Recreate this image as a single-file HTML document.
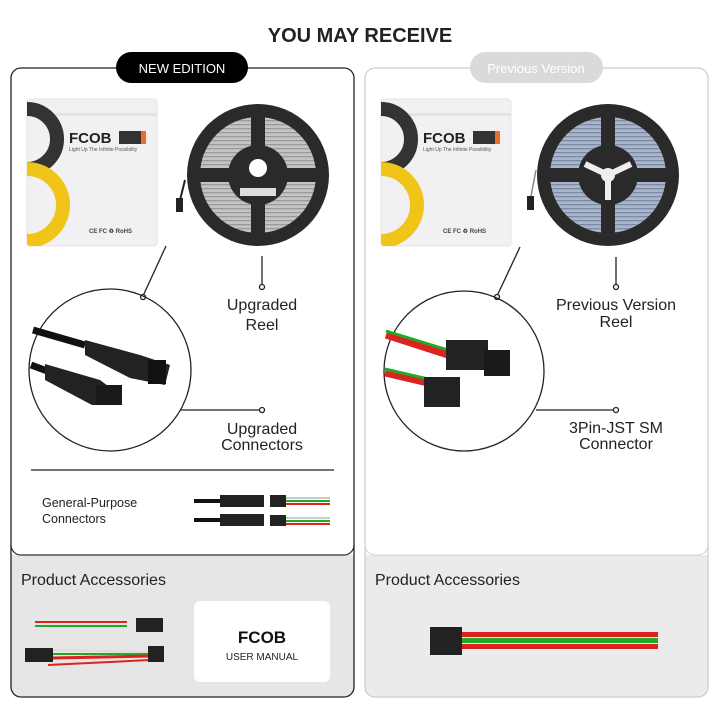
<!DOCTYPE html>
<html><head><meta charset="utf-8"><style>
body{margin:0;width:720px;height:720px;background:#fff;overflow:hidden;font-family:"Liberation Sans",sans-serif}
svg{display:block}
</style></head><body>
<svg width="720" height="720" viewBox="0 0 720 720" font-family="Liberation Sans, sans-serif">
<defs>
<clipPath id="pc"><rect x="0" y="0" width="130" height="147" rx="3"/></clipPath>
<pattern id="str" width="4" height="4" patternUnits="userSpaceOnUse"><rect width="4" height="4" fill="#c4c4c4"/><rect width="4" height="1.3" fill="#9a9a9a"/></pattern>
<pattern id="str2" width="4" height="4" patternUnits="userSpaceOnUse"><rect width="4" height="4" fill="#a9b5c9"/><rect width="4" height="1.3" fill="#7c8aa3"/></pattern>
<g id="pkg">
 <rect x="0" y="0" width="130" height="147" rx="3" fill="#f1f1f3" stroke="#e4e4e4"/>
 <g clip-path="url(#pc)">
 <rect x="0" y="14" width="130" height="3" fill="#e2e2e2"/>
 <path d="M0 10 A30 30 0 0 1 0 70" fill="none" stroke="#333" stroke-width="14"/>
 <path d="M0 70 A36 36 0 0 1 0 142" fill="none" stroke="#f0c419" stroke-width="14"/>
 </g>
 <text x="42" y="44" font-size="15" font-weight="bold" fill="#222">FCOB</text>
 <rect x="92" y="32" width="22" height="13" fill="#333"/><rect x="114" y="32" width="5" height="13" fill="#e8702a"/>
 <text x="42" y="52" font-size="5" fill="#555">Light Up The Infinite Possibility</text>
 <text x="62" y="134" font-size="6" fill="#444" font-weight="bold">CE FC ♻ RoHS</text>
</g>
</defs>
<text x="360" y="42" text-anchor="middle" font-size="20" font-weight="bold" fill="#222">YOU MAY RECEIVE</text>

<path d="M11 555 V78 a10 10 0 0 1 10 -10 H344 a10 10 0 0 1 10 10 V555 Z" fill="#fff"/>
<path d="M11 555 H354 V687 a10 10 0 0 1 -10 10 H21 a10 10 0 0 1 -10 -10 Z" fill="#e6e6e6"/>
<path d="M11 545 a10 10 0 0 0 10 10 H344 a10 10 0 0 0 10 -10" fill="none" stroke="#333" stroke-width="1.2"/>
<rect x="11" y="68" width="343" height="629" rx="10" fill="none" stroke="#222" stroke-width="1.3"/>
<rect x="116" y="52" width="132" height="31" rx="15.5" fill="#000"/>
<text x="182" y="73" text-anchor="middle" font-size="13" fill="#fff">NEW EDITION</text>

<path d="M365 555 V78 a10 10 0 0 1 10 -10 H698 a10 10 0 0 1 10 10 V555 Z" fill="#fff"/>
<path d="M365 555 H708 V687 a10 10 0 0 1 -10 10 H375 a10 10 0 0 1 -10 -10 Z" fill="#ebebeb"/>
<path d="M365 545 a10 10 0 0 0 10 10 H698 a10 10 0 0 0 10 -10" fill="none" stroke="#ccc"/>
<rect x="365" y="68" width="343" height="629" rx="10" fill="none" stroke="#ccc" stroke-width="1.2"/>
<rect x="470" y="52" width="133" height="31" rx="15.5" fill="#dadada"/>
<text x="536" y="73" text-anchor="middle" font-size="13" fill="#fff">Previous Version</text>

<use href="#pkg" x="27" y="99"/>
<use href="#pkg" x="381" y="99"/>

<circle cx="258" cy="175" r="71" fill="#2a2a2a"/>
<circle cx="258" cy="175" r="58" fill="url(#str)"/>
<g fill="#2a2a2a"><rect x="200" y="168" width="116" height="14"/><rect x="251" y="117" width="14" height="116"/></g>
<circle cx="258" cy="175" r="30" fill="#2a2a2a"/>
<circle cx="258" cy="168" r="9" fill="#fff"/>
<rect x="240" y="188" width="36" height="8" fill="#ddd"/>
<rect x="176" y="198" width="7" height="14" fill="#222"/>
<path d="M185 180 L180 200" stroke="#222" stroke-width="2"/>

<circle cx="608" cy="175" r="71" fill="#2a2a2a"/>
<circle cx="608" cy="175" r="58" fill="url(#str2)"/>
<g fill="#2a2a2a"><rect x="550" y="168" width="116" height="14"/><rect x="601" y="117" width="14" height="116"/></g>
<circle cx="608" cy="175" r="30" fill="#2a2a2a"/>
<g stroke="#eee" stroke-width="6"><line x1="608" y1="175" x2="585" y2="164"/><line x1="608" y1="175" x2="631" y2="164"/><line x1="608" y1="175" x2="608" y2="200"/></g>
<circle cx="608" cy="175" r="7" fill="#eee"/>
<rect x="527" y="196" width="7" height="14" fill="#222"/>
<path d="M536 170 L531 196" stroke="#888" stroke-width="1.5"/>

<g stroke="#222" stroke-width="1.3" fill="#fff">
<line x1="166" y1="246" x2="143" y2="296"/><circle cx="143" cy="297" r="2.5"/>
<line x1="262" y1="256" x2="262" y2="286"/><circle cx="262" cy="287" r="2.5"/>
<line x1="180" y1="410" x2="260" y2="410"/><circle cx="262" cy="410" r="2.5"/>
<circle cx="110" cy="370" r="81" fill="none"/>
<line x1="31" y1="470" x2="334" y2="470"/>
<line x1="520" y1="247" x2="497" y2="296"/><circle cx="497" cy="297" r="2.5"/>
<line x1="616" y1="257" x2="616" y2="286"/><circle cx="616" cy="287" r="2.5"/>
<line x1="536" y1="410" x2="614" y2="410"/><circle cx="616" cy="410" r="2.5"/>
<circle cx="464" cy="371" r="80" fill="none"/>
</g>

<g>
<path d="M33 330 L85 345" stroke="#111" stroke-width="7"/>
<path d="M85 340 L140 355 L170 365 L165 385 L130 378 L85 355 Z" fill="#222"/>
<rect x="148" y="360" width="18" height="24" fill="#111"/>
<path d="M31 365 L50 372" stroke="#111" stroke-width="7"/>
<path d="M45 364 L100 380 L120 395 L120 405 L92 405 L45 380 Z" fill="#222"/>
<rect x="96" y="385" width="26" height="20" fill="#1a1a1a"/>
</g>
<path d="M386 335 L448 355" stroke="#d22" stroke-width="7"/><path d="M386 331 L448 350" stroke="#2a2" stroke-width="3"/>
<rect x="446" y="340" width="42" height="30" fill="#222"/><rect x="484" y="350" width="26" height="26" fill="#1a1a1a"/>
<path d="M385 373 L428 383" stroke="#d22" stroke-width="7"/><path d="M385 369 L428 379" stroke="#2a2" stroke-width="3"/>
<rect x="424" y="377" width="36" height="30" fill="#222"/>

<g font-size="16" fill="#222" text-anchor="middle">
<text x="262" y="310">Upgraded</text><text x="262" y="330">Reel</text>
<text x="262" y="434">Upgraded</text><text x="262" y="450">Connectors</text>
<text x="616" y="310">Previous Version</text><text x="616" y="327">Reel</text>
<text x="616" y="433">3Pin-JST SM</text><text x="616" y="449">Connector</text>
</g>
<g font-size="12.5" fill="#222"><text x="42" y="507">General-Purpose</text><text x="42" y="523">Connectors</text></g>
<g>
<rect x="194" y="499" width="30" height="4" fill="#111"/><rect x="220" y="495" width="44" height="12" fill="#222"/>
<rect x="270" y="495" width="16" height="12" fill="#222"/>
<rect x="286" y="497" width="44" height="2" fill="#ccc"/><rect x="286" y="500" width="44" height="2" fill="#2a2"/><rect x="286" y="503" width="44" height="2" fill="#d22"/>
<rect x="194" y="518" width="30" height="4" fill="#111"/><rect x="220" y="514" width="44" height="12" fill="#222"/>
<rect x="270" y="515" width="16" height="11" fill="#222"/>
<rect x="286" y="517" width="44" height="2" fill="#ccc"/><rect x="286" y="520" width="44" height="2" fill="#2a2"/><rect x="286" y="523" width="44" height="2" fill="#d22"/>
</g>

<g font-size="16" fill="#222"><text x="21" y="585">Product Accessories</text><text x="375" y="585">Product Accessories</text></g>
<rect x="35" y="621" width="92" height="2" fill="#d22"/><rect x="35" y="625" width="92" height="2" fill="#2a2"/>
<rect x="136" y="618" width="27" height="14" fill="#222"/>
<rect x="25" y="648" width="28" height="14" fill="#222"/>
<path d="M53 650 L150 652" stroke="#ddd" stroke-width="2"/><path d="M53 654 L150 654" stroke="#2a2" stroke-width="2"/><path d="M53 658 L150 656" stroke="#d22" stroke-width="3"/>
<path d="M48 665 L150 660" stroke="#d22" stroke-width="2"/>
<rect x="148" y="646" width="16" height="16" fill="#222"/>
<rect x="194" y="601" width="136" height="81" rx="6" fill="#fff"/>
<text x="262" y="643" text-anchor="middle" font-size="17" font-weight="bold" fill="#111">FCOB</text>
<text x="262" y="660" text-anchor="middle" font-size="10" fill="#222">USER MANUAL</text>
<rect x="430" y="627" width="32" height="28" fill="#222"/>
<rect x="462" y="632" width="196" height="5" fill="#d22"/><rect x="462" y="638" width="196" height="5" fill="#2a2"/><rect x="462" y="644" width="196" height="5" fill="#d22"/>
</svg>
</body></html>
